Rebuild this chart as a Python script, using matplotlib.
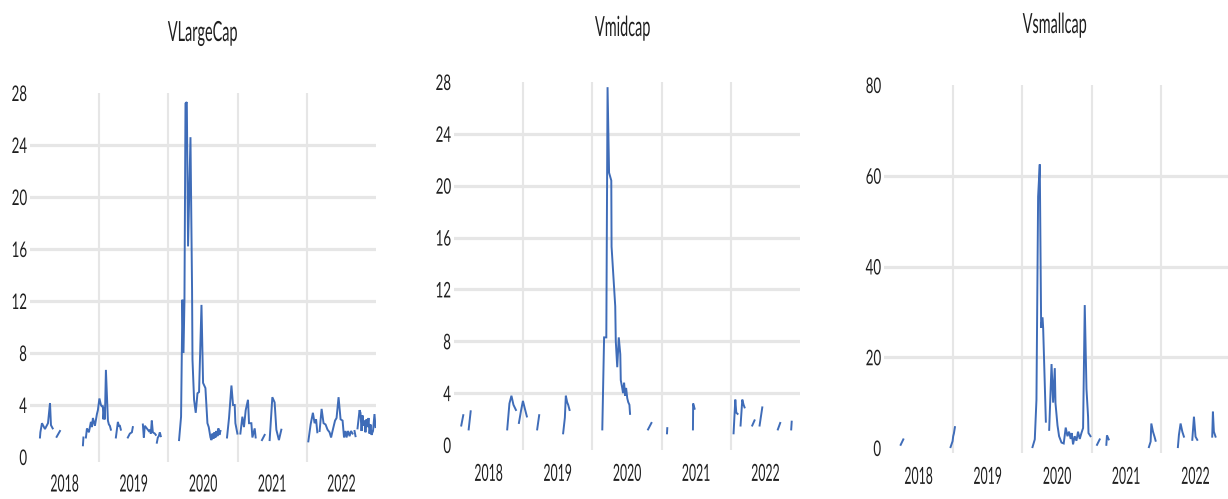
import numpy as np
import matplotlib
matplotlib.use("Agg")
import matplotlib.pyplot as plt
from matplotlib.patheffects import AbstractPathEffect
from matplotlib.transforms import Affine2D

nan = np.nan

titles = ["VLargeCap", "Vmidcap", "Vsmallcap"]
year_labels = ["2018", "2019", "2020", "2021", "2022"]

large_x = [2018.144, 2018.150, 2018.173, 2018.216, 2018.260, 2018.289, 2018.303, 2018.328, 2018.36, 2018.385, 2018.433, 2018.60,
           2018.765, 2018.772, 2018.79, 2018.808, 2018.823, 2018.851, 2018.880, 2018.895, 2018.909, 2018.938, 2018.967, 2018.981,
           2019.003, 2019.025, 2019.039, 2019.053, 2019.061, 2019.075, 2019.082, 2019.097, 2019.118, 2019.126, 2019.140, 2019.154,
           2019.169, 2019.20, 2019.241, 2019.270, 2019.284, 2019.299, 2019.313, 2019.36, 2019.414, 2019.443, 2019.472, 2019.486,
           2019.55, 2019.631, 2019.645, 2019.659, 2019.688, 2019.717, 2019.732, 2019.746, 2019.760, 2019.775, 2019.804, 2019.818,
           2019.825, 2019.833, 2019.847, 2019.861, 2019.876, 2019.890, 2020.0,
           2020.154, 2020.183, 2020.203, 2020.218, 2020.232, 2020.247, 2020.266, 2020.284, 2020.319, 2020.342, 2020.348, 2020.371,
           2020.395, 2020.420, 2020.443, 2020.478, 2020.501, 2020.535, 2020.564, 2020.583, 2020.608, 2020.622, 2020.636, 2020.651,
           2020.665, 2020.680, 2020.694, 2020.709, 2020.723, 2020.737, 2020.752, 2020.80,
           2020.847, 2020.876, 2020.911, 2020.934, 2020.958, 2020.968, 2020.997, 2021.02, 2021.040, 2021.069, 2021.092, 2021.117,
           2021.150, 2021.165, 2021.199, 2021.214, 2021.247, 2021.261, 2021.30, 2021.352, 2021.391, 2021.43, 2021.463, 2021.502,
           2021.535, 2021.560, 2021.597, 2021.632, 2021.80,
           2022.022, 2022.055, 2022.088, 2022.113, 2022.134, 2022.152, 2022.17, 2022.185, 2022.214, 2022.242, 2022.271, 2022.300,
           2022.329, 2022.351, 2022.372, 2022.408, 2022.430, 2022.459, 2022.488, 2022.517, 2022.538, 2022.560, 2022.574, 2022.596,
           2022.618, 2022.639, 2022.661, 2022.675, 2022.690, 2022.704, 2022.72, 2022.733, 2022.762, 2022.776, 2022.791, 2022.805,
           2022.820, 2022.834, 2022.848, 2022.863, 2022.877, 2022.892, 2022.906, 2022.921, 2022.935, 2022.957, 2022.978, 2022.993]
large_y = [1.5, 1.9, 2.6, 2.15, 2.6, 4.15, 2.45, 2.2, nan, 1.55, 2.0, nan,
           0.9, 1.5, nan, 1.5, 2.2, 1.9, 2.7, 2.3, 3.0, 2.4, 3.3, 3.6,
           4.5, 4.0, 3.9, 3.9, 2.9, 3.8, 2.9, 6.7, 3.8, 2.8, 2.5, 2.4,
           2.1, nan, 1.5, 2.7, 2.4, 2.4, 2.1, nan, 1.5, 1.8, 1.9, 2.3,
           nan, 2.5, 1.5, 2.4, 2.2, 2.0, 2.1, 1.8, 2.8, 1.9, 1.8, 1.7,
           nan, 1.1, 1.5, 1.6, 1.9, 1.6, nan,
           1.3, 3.1, 12.1, 8.0, 12.0, 27.2, 27.3, 16.2, 24.6, 12.8, 7.5, 4.4,
           3.4, 4.9, 5.0, 11.7, 5.7, 5.3, 2.6, 2.3, 1.5, 1.3, 1.8, 1.4,
           1.9, 1.5, 2.0, 1.6, 2.2, 1.7, 2.0, nan,
           1.5, 3.0, 5.5, 4.0, 4.0, 2.6, 1.8, nan, 1.8, 3.1, 2.3, 3.6,
           4.4, 2.6, 2.6, 1.5, 2.2, 1.5, nan, 1.3, 1.7, nan, 1.3, 4.6,
           4.2, 2.1, 1.3, 2.1, nan,
           1.2, 2.5, 3.4, 2.6, 2.9, 1.9, nan, 2.0, 3.7, 2.6, 2.5, 2.1,
           1.9, 1.5, 2.0, 2.8, 3.0, 4.6, 2.9, 2.8, 1.5, 2.0, 1.5, 2.0,
           1.6, 2.0, 1.8, nan, 2.0, 1.6, nan, 2.2, 3.6, 3.4, 2.0, 3.2,
           2.4, 2.8, 1.9, 2.9, 2.3, 3.0, 1.8, 2.5, 1.7, 2.0, 3.3, 2.3]

mid_x = [2018.105, 2018.134, 2018.17, 2018.212, 2018.241, 2018.50,
         2018.769, 2018.801, 2018.830, 2018.859, 2018.895, 2018.92, 2018.938, 2018.967, 2018.996, 2019.024, 2019.053, 2019.12,
         2019.202, 2019.231, 2019.40, 2019.577, 2019.602, 2019.616, 2019.635, 2019.650, 2019.670, 2019.90,
         2020.143, 2020.169, 2020.201, 2020.219, 2020.241, 2020.273, 2020.277, 2020.330, 2020.338, 2020.359, 2020.381, 2020.403,
         2020.410, 2020.431, 2020.443, 2020.458, 2020.472, 2020.487, 2020.504, 2020.518, 2020.535, 2020.544, 2020.70,
         2020.804, 2020.853, 2020.95, 2021.078, 2021.082, 2021.30, 2021.453, 2021.456, 2021.477, 2021.80,
         2022.040, 2022.065, 2022.079, 2022.098, 2022.12, 2022.141, 2022.166, 2022.185, 2022.199, 2022.25,
         2022.310, 2022.343, 2022.38, 2022.416, 2022.455, 2022.60, 2022.680, 2022.714, 2022.80, 2022.873, 2022.880]
mid_y = [1.5, 2.3, nan, 1.2, 2.6, nan,
         1.2, 3.2, 3.8, 3.1, 2.7, nan, 1.7, 2.6, 3.4, 2.8, 2.2, nan,
         1.2, 2.3, nan, 0.9, 2.1, 3.8, 3.3, 3.1, 2.7, nan,
         1.2, 8.3, 8.3, 27.6, 21.0, 20.4, 15.3, 10.7, 8.0, 6.0, 8.3, 7.0,
         5.0, 4.4, 4.0, 4.8, 3.8, 4.4, 3.6, 3.3, 3.1, 2.4, nan,
         1.2, 1.7, nan, 0.9, 1.3, nan, 1.2, 3.2, 2.8, nan,
         0.9, 3.5, 2.5, 2.4, nan, 1.5, 3.5, 3.1, 2.9, nan,
         1.5, 1.9, nan, 1.5, 2.9, nan, 1.2, 1.7, nan, 1.2, 1.8]

small_x = [2018.241, 2018.279, 2018.60, 2018.962, 2018.991, 2019.000, 2019.010, 2019.025, 2019.50,
           2020.146, 2020.179, 2020.203, 2020.227, 2020.251, 2020.271, 2020.291, 2020.300, 2020.339, 2020.36,
           2020.387, 2020.421, 2020.444, 2020.468, 2020.478, 2020.507, 2020.530, 2020.550, 2020.565, 2020.597, 2020.626,
           2020.651, 2020.674, 2020.698, 2020.713, 2020.732, 2020.756, 2020.781, 2020.804, 2020.829, 2020.853, 2020.877,
           2020.901, 2020.926, 2020.949, 2020.955, 2020.984, 2021.03,
           2021.078, 2021.117, 2021.16, 2021.213, 2021.222, 2021.247, 2021.50,
           2021.828, 2021.853, 2021.863, 2021.887, 2021.911, 2021.925, 2022.10,
           2022.247, 2022.262, 2022.286, 2022.311, 2022.334, 2022.40, 2022.455, 2022.479, 2022.502, 2022.527, 2022.60,
           2022.743, 2022.753, 2022.767, 2022.791]
small_y = [0.7, 1.9, nan, 0.2, 1.5, 2.6, 3.2, 4.6, nan,
           0.2, 1.9, 10.6, 55.4, 62.5, 26.5, 28.8, 26.4, 5.8, nan,
           4.0, 18.5, 10.0, 17.6, 9.9, 5.0, 2.6, 1.8, 1.2, 1.0, 4.5,
           2.6, 3.6, 2.0, 3.3, 0.8, 2.6, 1.6, 3.6, 2.0, 3.3, 4.4,
           31.5, 13.0, 6.9, 3.3, 2.6, nan,
           0.7, 1.9, nan, 0.7, 2.8, 1.9, nan,
           0.2, 1.4, 5.4, 3.6, 2.4, 1.6, nan,
           0.2, 2.9, 5.4, 3.6, 2.5, nan, 1.8, 6.9, 2.5, 1.8, nan,
           2.5, 8.0, 3.6, 2.5]

series_x = [large_x, mid_x, small_x]
series_y = [large_y, mid_y, small_y]
y_ticks = [list(range(0, 29, 4)), list(range(0, 29, 4)), list(range(0, 81, 20))]


class Squash(AbstractPathEffect):
    """Draw text horizontally condensed (the reference's text is tall and narrow)."""

    def __init__(self, sx, anchor="center"):
        super().__init__()
        self.sx = sx
        self.anchor = anchor

    def draw_path(self, renderer, gc, tpath, affine, rgbFace=None):
        ext = tpath.get_extents(affine)
        if self.anchor == "right":
            cx = ext.x1
        elif self.anchor == "left":
            cx = ext.x0
        else:
            cx = 0.5 * (ext.x0 + ext.x1)
        new = affine + Affine2D().translate(-cx, 0).scale(self.sx, 1.0).translate(cx, 0)
        renderer.draw_path(gc, tpath, new, rgbFace)


W, H = 1228, 499
fig = plt.figure(figsize=(W / 100, H / 100), dpi=100)
fig.patch.set_facecolor("white")

FONT = ["Lato", "DejaVu Sans"]
TXT = "#1f1f1f"
GRID = "#e6e6e6"
LINE = "#3f6cb8"

# pixel geometry: (left, top, bottom) and y-limits
geom = [(30, 93, 462, -0.385, 28), (454, 82, 450, -0.386, 28), (884, 85, 453, -1.1, 80)]
title_pos = [(203, 33), (623, 28), (1055, 25)]
xpads = [9, 10, 10]
span_px = 346

for i in range(3):
    left, top, bot, y0, y1 = geom[i]
    ax = fig.add_axes([left / W, 1 - bot / H, span_px / W, (bot - top) / H])
    ax.plot(series_x[i], series_y[i], color=LINE, lw=1.4, solid_joinstyle="miter", zorder=3)
    ax.set_xlim(2018, 2023)
    ax.set_ylim(y0, y1)
    for s in ax.spines.values():
        s.set_visible(False)
    ax.set_yticks(y_ticks[i])
    ax.set_yticklabels([str(v) for v in y_ticks[i]], family=FONT, fontsize=15.5, color=TXT,
                       path_effects=[Squash(0.62, "right")])
    ax.set_xticks([2019, 2020, 2021, 2022])
    ax.set_xticklabels([])
    ax.set_xticks([2018.5, 2019.5, 2020.5, 2021.5, 2022.5], minor=True)
    ax.set_xticklabels(year_labels, minor=True, family=FONT, fontsize=17, color=TXT,
                       path_effects=[Squash(0.52, "center")])
    ax.tick_params(axis="both", which="both", length=0)
    ax.tick_params(axis="y", pad=2)
    ax.tick_params(axis="x", which="minor", pad=xpads[i])
    ax.grid(True, axis="x", which="major", color=GRID, lw=1.5, zorder=0)
    ax.grid(True, axis="y", which="major", color=GRID, lw=2.3, zorder=0)
    ylines = ax.get_ygridlines()
    ylines[0].set_visible(False)
    ylines[-1].set_visible(False)
    ax.set_axisbelow(True)
    tx, ty = title_pos[i]
    fig.text(tx / W, 1 - ty / H, titles[i], family=FONT, fontsize=20, color=TXT, ha="center", va="center",
             path_effects=[Squash(0.52, "center")])

fig.savefig("out.png", dpi=100, facecolor="white")
